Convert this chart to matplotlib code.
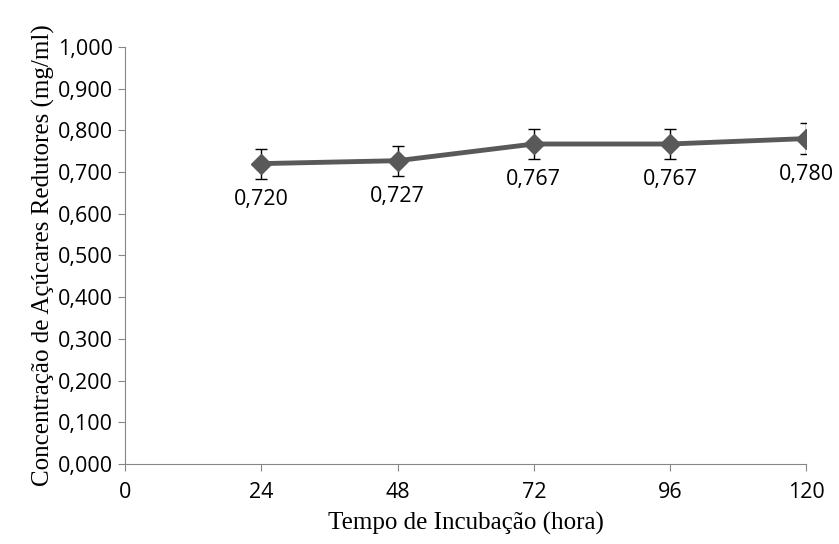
import numpy as np
import matplotlib.pyplot as plt
from matplotlib.ticker import FuncFormatter

tempo = [24, 48, 72, 96, 120]
concentracao = [0.720, 0.727, 0.767, 0.767, 0.780]
erro = [0.036, 0.036, 0.037, 0.037, 0.038]

fig = plt.figure(figsize=(8.39, 5.44), dpi=100)
ax = fig.add_axes([0.149, 0.147, 0.812, 0.767])

ax.errorbar(tempo, concentracao, yerr=erro, color='#595959', lw=3.5, marker='D', ms=10,
            ecolor='black', elinewidth=1, capsize=4, capthick=1)

for x, y in zip(tempo, concentracao):
    lab = '{:.3f}'.format(y).replace('.', ',')
    ax.annotate(lab, (x, y), xytext=(0, -18), textcoords='offset points',
                ha='center', va='top', fontsize=15.5, family='Open Sans')

ax.set_xlim(0, 120)
ax.set_ylim(0, 1.0)
ax.set_xticks([0, 24, 48, 72, 96, 120])
ax.set_yticks(np.arange(0, 1.01, 0.1))
ax.yaxis.set_major_formatter(FuncFormatter(lambda v, p: '{:.3f}'.format(v).replace('.', ',')))
for lbl in ax.get_xticklabels() + ax.get_yticklabels():
    lbl.set_family('Open Sans')
    lbl.set_fontsize(15.5)
ax.tick_params(axis='both', length=5, color='#868686')
ax.tick_params(axis='x', pad=8)
ax.spines['top'].set_visible(False)
ax.spines['right'].set_visible(False)
ax.spines['left'].set_color('#868686')
ax.spines['bottom'].set_color('#868686')

ax.set_xlabel('Tempo de Incubação (hora)', family='Liberation Serif', fontsize=18, labelpad=6)
ax.set_ylabel('Concentração de Açúcares Redutores (mg/ml)', family='Liberation Serif', fontsize=18, labelpad=2)

fig.savefig('out.png', dpi=100)
